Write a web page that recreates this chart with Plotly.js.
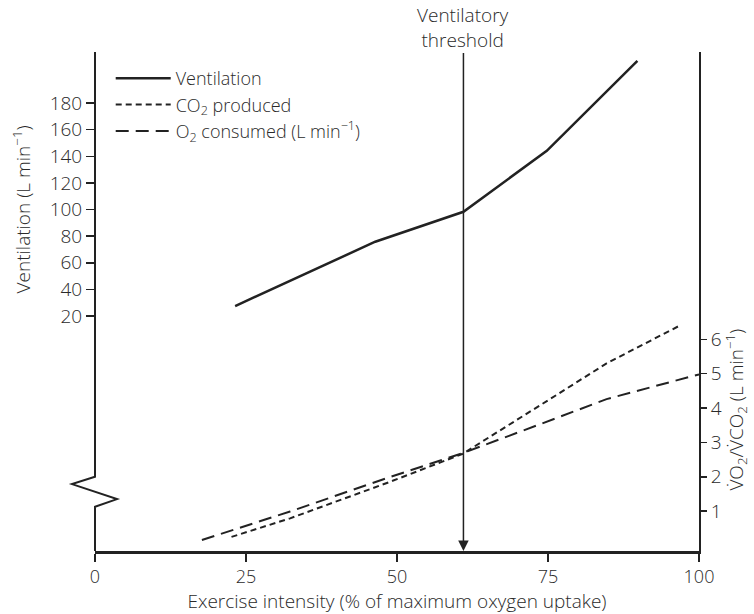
<!DOCTYPE html>
<html><head><meta charset="utf-8">
<script src="https://cdn.plot.ly/plotly-3.0.1.min.js"></script>
<style>body{margin:0;background:#fff;}</style></head>
<body><div id="chart" style="width:754px;height:614px;"></div>
<script>
// Exercise intensity (% of maximum oxygen uptake)
const ventX = [23.2, 46.4, 61.0, 74.8, 89.8];
const ventY = [27.5, 75.8, 98.3, 144.1, 211.7];
const co2X = [22.6, 32.3, 48.8, 60.9, 73.7, 84.7, 96.6];
const co2Y = [0.25, 0.79, 1.85, 2.67, 4.08, 5.30, 6.38];
const o2X = [17.7, 32.3, 48.8, 60.9, 73.7, 84.7, 100];
const o2Y = [0.16, 0.99, 1.99, 2.69, 3.53, 4.26, 4.98];
const thresholdX = 61;
const xTicks = [0, 25, 50, 75, 100];
const ventTicks = [20, 40, 60, 80, 100, 120, 140, 160, 180];
const gasTicks = [1, 2, 3, 4, 5, 6];

const FONT = '"Open Sans", "Liberation Sans", Arial, sans-serif';
const TXT = '#2a2a2a';
const INK = '#222222';
const FS = 19;
const FW = 300;

const traces = [
  {x: ventX, y: ventY, yaxis: 'y', mode: 'lines', name: 'Ventilation',
   line: {color: INK, width: 2.5}},
  {x: co2X, y: co2Y, yaxis: 'y2', mode: 'lines', name: 'CO<sub>2</sub> produced',
   line: {color: INK, width: 2, dash: '6px,4px'}},
  {x: o2X, y: o2Y, yaxis: 'y2', mode: 'lines', name: 'O<sub>2</sub> consumed (L min<sup>\u22121</sup>)',
   line: {color: INK, width: 2, dash: '13px,7px'}}
];

const layout = {
  width: 754, height: 614,
  margin: {l: 95, r: 55, t: 52, b: 63},
  paper_bgcolor: '#fff', plot_bgcolor: '#fff',
  font: {family: FONT, size: FS, color: TXT, weight: FW},
  showlegend: true,
  legend: {x: 0.026, y: 0.984, xanchor: 'left', yanchor: 'top', itemwidth: 55,
           bgcolor: 'rgba(0,0,0,0)', font: {size: 18, color: TXT, weight: FW}, tracegroupgap: 0},
  xaxis: {range: [0, 100], tickvals: xTicks, ticks: 'outside', ticklen: 8, tickwidth: 1.5,
          tickcolor: INK, showline: true, linecolor: INK, linewidth: 2.5,
          tickfont: {size: 18, color: TXT, weight: FW},
          showgrid: false, zeroline: false, fixedrange: true,
          title: {text: 'Exercise intensity (% of maximum oxygen uptake)', standoff: 6,
                  font: {size: 19, color: TXT, weight: FW}}},
  yaxis: {range: [-156.5, 218.3], tickvals: ventTicks, ticks: 'outside', ticklen: 8,
          tickwidth: 1.5, tickcolor: INK, showline: false, showgrid: false, zeroline: false,
          fixedrange: true},
  yaxis2: {range: [-0.16, 14.36], tickvals: gasTicks, overlaying: 'y', side: 'right',
           ticks: 'outside', ticklen: 6, tickwidth: 1.5, tickcolor: INK, showline: true,
           linecolor: INK, linewidth: 2, showgrid: false, zeroline: false, fixedrange: true},
  shapes: [
    {type: 'path', xref: 'paper', yref: 'paper',
     path: 'M0,1 L0,0.149 L-0.0381,0.134 L0.0364,0.104 L0,0.0888 L0,0',
     line: {color: INK, width: 2}}
  ],
  annotations: [
    {x: thresholdX, xref: 'x', y: 0, yref: 'paper', axref: 'pixel', ayref: 'pixel',
     ax: 0, ay: -524, showarrow: true, arrowhead: 2, arrowsize: 1.4, arrowwidth: 1.5,
     arrowcolor: INK, text: 'Ventilatory<br>threshold', font: {size: FS, color: TXT, weight: FW},
     borderpad: 0, standoff: 0},
    {x: -0.121, xref: 'paper', y: 100, yref: 'y', xanchor: 'center', yanchor: 'middle',
     text: 'Ventilation (L min<sup>\u22121</sup>)',
     textangle: -90, showarrow: false, font: {size: FS, color: TXT, weight: FW}},
    {x: 1.061, xref: 'paper', y: 3.95, yref: 'y2', xanchor: 'center', yanchor: 'middle',
     text: 'V\u0307O<sub>2</sub>/V\u0307CO<sub>2</sub> (L min<sup>\u22121</sup>)',
     textangle: -90, showarrow: false, font: {size: FS, color: TXT, weight: FW}}
  ]
};

Plotly.newPlot('chart', traces, layout, {displayModeBar: false, staticPlot: true});
</script>
</body></html>
